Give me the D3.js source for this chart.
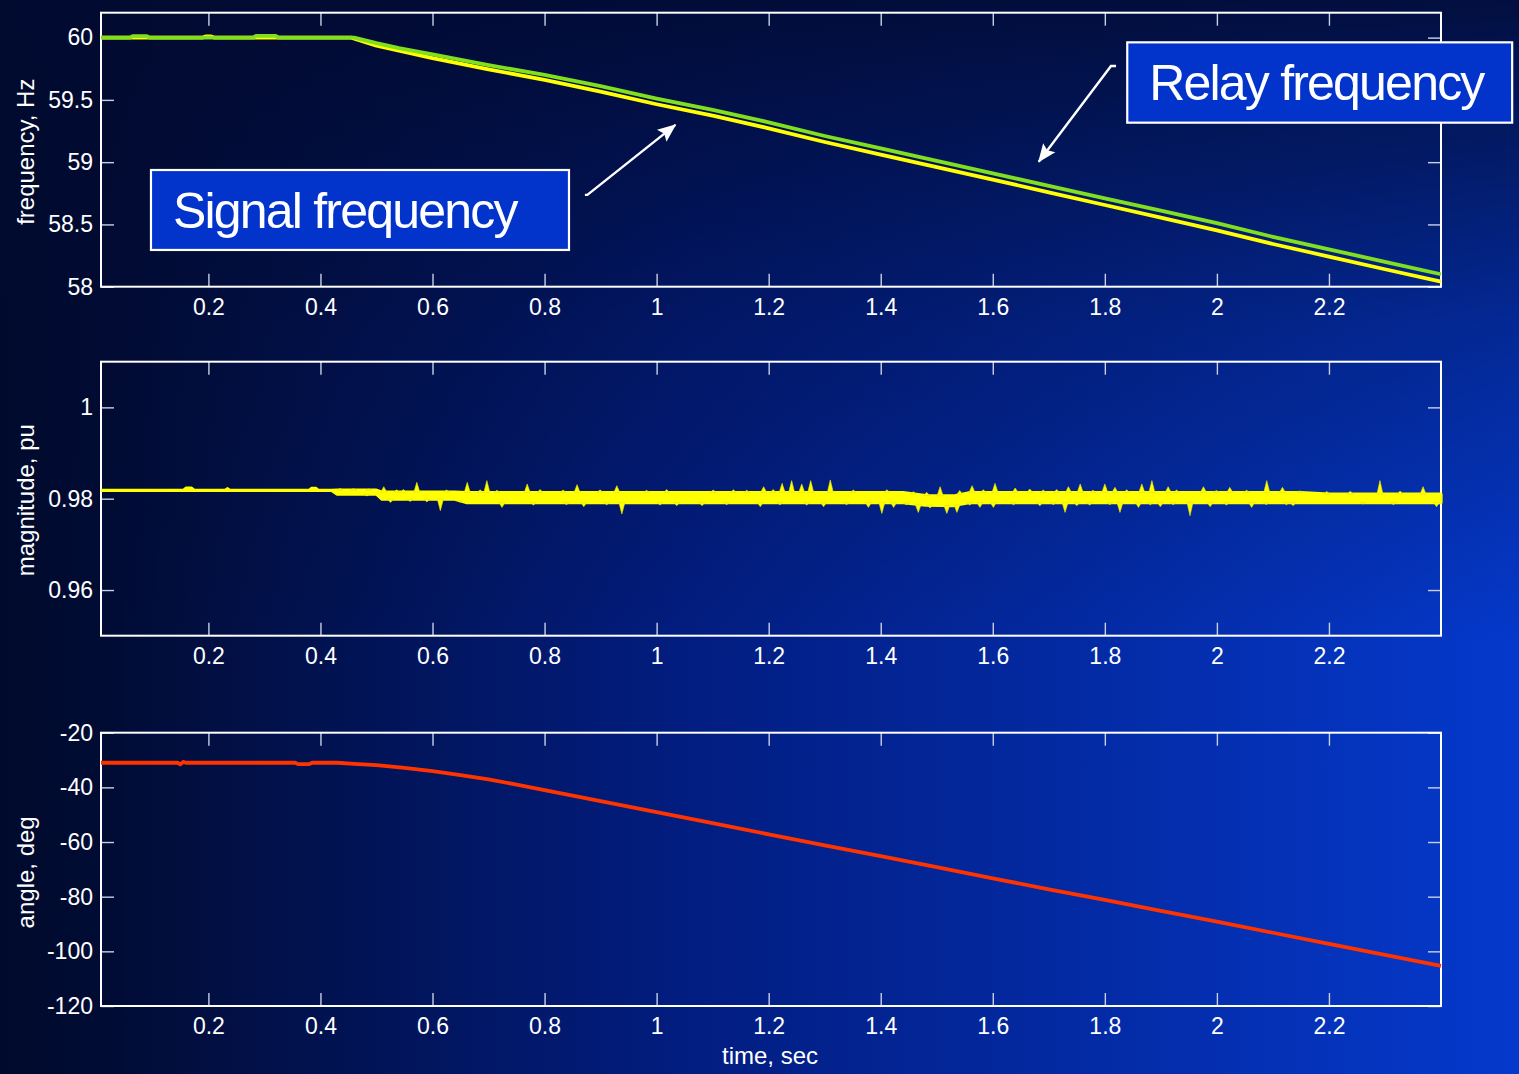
<!DOCTYPE html>
<html>
<head>
<meta charset="utf-8">
<script src="https://cdn.jsdelivr.net/npm/d3@7"></script>
<style>
  html, body { margin: 0; padding: 0; background: #010a30; }
  svg { display: block; }
</style>
</head>
<body>
<svg id="chart" width="1519" height="1074"></svg>
<script>
// ---- time axis ----
const timeDomain = [0.0083, 2.4];
const timeTicks = [0.2, 0.4, 0.6, 0.8, 1, 1.2, 1.4, 1.6, 1.8, 2, 2.2];

// ---- panel 1: frequency (Hz) ----
const freqDomain = [58, 60.2];
const freqTicks = [58, 58.5, 59, 59.5, 60];
const relayTime = [0.0083, 0.06, 0.065, 0.09, 0.095, 0.28, 0.285, 0.32, 0.325, 0.46, 0.5, 0.54, 0.6, 0.7, 0.8, 0.9, 1.0, 1.1, 1.2, 1.3, 1.4, 1.5, 1.6, 1.7, 1.8, 1.9, 2.0, 2.1, 2.2, 2.3, 2.4];
const relayHz   = [60, 60, 60.012, 60.012, 60, 60, 60.014, 60.014, 60, 60, 59.955, 59.915, 59.865, 59.78, 59.70, 59.61, 59.51, 59.42, 59.32, 59.21, 59.11, 59.01, 58.91, 58.81, 58.71, 58.61, 58.51, 58.40, 58.30, 58.20, 58.10];
const signalTime = [0.0083, 0.19, 0.195, 0.205, 0.21, 0.455, 0.5, 0.54, 0.6, 0.7, 0.8, 0.9, 1.0, 1.1, 1.2, 1.3, 1.4, 1.5, 1.6, 1.7, 1.8, 1.9, 2.0, 2.1, 2.2, 2.3, 2.4];
const signalHz   = [60, 60, 60.01, 60.01, 60, 60, 59.935, 59.895, 59.835, 59.745, 59.66, 59.567, 59.465, 59.373, 59.272, 59.162, 59.06, 58.96, 58.86, 58.758, 58.656, 58.555, 58.453, 58.343, 58.242, 58.14, 58.04];

// ---- panel 2: magnitude (pu) ----
const magDomain = [0.95, 1.01];
const magTicks = [0.96, 0.98, 1];
// upper / lower envelope of the fast oscillation
const magBandTime = [0.0083, 0.155, 0.16, 0.17, 0.175, 0.23, 0.234, 0.238, 0.38, 0.384, 0.392, 0.396, 0.42, 0.43, 0.50, 0.51, 0.64, 0.66, 1.44, 1.48, 1.53, 1.56, 2.15, 2.2, 2.4];
const magBandHi   = [0.98182, 0.98182, 0.98230, 0.98230, 0.98182, 0.98182, 0.98220, 0.98182, 0.98182, 0.98225, 0.98225, 0.98182, 0.98182, 0.98187, 0.98187, 0.98143, 0.98143, 0.98136, 0.98136, 0.98070, 0.98060, 0.98136, 0.98136, 0.98100, 0.98100];
const magBandLo   = [0.98182, 0.98182, 0.98182, 0.98182, 0.98182, 0.98182, 0.98182, 0.98182, 0.98182, 0.98182, 0.98182, 0.98182, 0.98182, 0.98099, 0.98099, 0.97989, 0.97989, 0.97916, 0.97916, 0.97860, 0.97850, 0.97916, 0.97916, 0.97916, 0.97916];
// isolated spikes of the magnitude estimate (large ones first, then the small ones)
const magSpikeTime = [0.486, 0.513, 0.572, 0.662, 0.697, 0.769, 0.858, 0.929, 1.191, 1.224, 1.241, 1.259, 1.275, 1.310, 1.506, 1.563, 1.604, 1.640, 1.666, 1.735, 1.756, 1.800, 1.818, 1.866, 1.884, 1.913, 1.976, 2.023, 2.089, 2.117, 2.291, 2.368,
                      0.525, 0.614, 0.724, 0.870, 0.938, 1.036, 1.081, 1.185, 1.298, 1.378, 1.402, 1.423, 1.467, 1.488, 1.518, 1.536, 1.577, 1.601, 1.684, 1.729, 1.750, 1.827, 1.860, 1.899, 1.952, 1.988, 2.062, 2.136, 2.261, 2.392,
                      0.435, 0.459, 0.536, 0.548, 0.625, 0.685, 0.715, 0.792, 0.833, 0.899, 0.982, 1.018, 1.101, 1.137, 1.161, 1.208, 1.351, 1.411, 1.458, 1.482, 1.541, 1.583, 1.690, 1.714, 1.779, 1.839, 1.928, 1.999, 2.053, 2.148, 2.196, 2.238, 2.327,
                      0.483, 0.560, 0.590, 0.649, 0.780, 0.839, 0.911, 1.006, 1.125, 1.220, 1.268, 1.339, 1.446, 1.559, 1.637, 1.708, 1.773, 1.809, 1.881, 1.922, 2.017, 2.088, 2.124, 2.315];
const magSpikeVal  = [0.98213, 0.98264, 0.98358, 0.98358, 0.98396, 0.98323, 0.98308, 0.98286, 0.98264, 0.98336, 0.98396, 0.98323, 0.98396, 0.98411, 0.98264, 0.98286, 0.98336, 0.98235, 0.98213, 0.98264, 0.98323, 0.98323, 0.98248, 0.98323, 0.98396, 0.98264, 0.98264, 0.98248, 0.98396, 0.98248, 0.98396, 0.98264,
                      0.97919, 0.97736, 0.97809, 0.97824, 0.97664, 0.97846, 0.97846, 0.97824, 0.97824, 0.97809, 0.97677, 0.97809, 0.97699, 0.97796, 0.97677, 0.97699, 0.97809, 0.97809, 0.97846, 0.97699, 0.97846, 0.97699, 0.97809, 0.97824, 0.97626, 0.97824, 0.97809, 0.97846, 0.97884, 0.97824,
                      0.98225, 0.98220, 0.98195, 0.98200, 0.98190, 0.98195, 0.98185, 0.98200, 0.98190, 0.98195, 0.98185, 0.98200, 0.98190, 0.98195, 0.98185, 0.98200, 0.98190, 0.98195, 0.98150, 0.98140, 0.98180, 0.98195, 0.98190, 0.98200, 0.98185, 0.98195, 0.98190, 0.98180, 0.98185, 0.98170, 0.98160, 0.98165, 0.98170,
                      0.98060, 0.97940, 0.97930, 0.97925, 0.97860, 0.97870, 0.97865, 0.97860, 0.97870, 0.97865, 0.97860, 0.97870, 0.97870, 0.97860, 0.97865, 0.97870, 0.97860, 0.97870, 0.97865, 0.97870, 0.97860, 0.97870, 0.97865, 0.97870];

// ---- panel 3: angle (deg) ----
const angleDomain = [-120, -20];
const angleTicks = [-120, -100, -80, -60, -40, -20];
const angleTime = [0.0083, 0.145, 0.15, 0.155, 0.16, 0.355, 0.36, 0.38, 0.385, 0.43, 0.46, 0.5, 0.55, 0.6, 0.65, 0.7, 0.75, 0.8, 0.9, 1.0, 1.1, 1.2, 1.3, 1.4, 1.5, 1.6, 1.7, 1.8, 1.9, 2.0, 2.1, 2.2, 2.3, 2.4];
const angleDeg  = [-31, -31, -31.6, -30.7, -31, -31, -31.5, -31.5, -31, -31, -31.4, -31.9, -32.9, -34.1, -35.5, -37.1, -39.0, -41.0, -45.0, -49.1, -53.1, -57.2, -61.2, -65.2, -69.2, -73.3, -77.3, -81.2, -85.2, -89.1, -93.2, -97.3, -101.3, -105.3];

// ---- annotations (data coordinates of the top panel) ----
const calloutLabels = ["Signal frequency", "Relay frequency"];
const calloutBoxes = [[0.0975, 58.937, 0.8436, 58.295], [1.840, 59.962, 2.527, 59.317]];
const calloutArrows = [
  [[0.872, 58.737], [0.8764, 58.737], [1.0335, 59.299]],
  [[1.820, 59.772], [1.811, 59.772], [1.682, 59.004]]
];

// ---------------------------------------------------------------
const W = 1519, H = 1074;
const plotLeft = 101, plotRight = 1441;
const FONT = '"Liberation Sans", Arial, Helvetica, sans-serif';
const svg = d3.select("#chart");
const defs = svg.append("defs");

// background: dark navy on the left/top, bright blue toward the lower right
const gh = defs.append("linearGradient").attr("id", "bgH").attr("x1", 0).attr("y1", 0).attr("x2", 1).attr("y2", 0);
[[0, "#000a2c"], [0.08, "#010c36"], [0.45, "#021d80"], [1, "#0539cc"]].forEach(([o, c]) => gh.append("stop").attr("offset", o).attr("stop-color", c));
const gv = defs.append("linearGradient").attr("id", "bgV").attr("x1", 0).attr("y1", 0).attr("x2", 0).attr("y2", 1);
[[0, "#010a30", 0.9], [0.3, "#010a30", 0.35], [0.6, "#010a30", 0.0], [1, "#010a30", 0]].forEach(([o, c, a]) => gv.append("stop").attr("offset", o).attr("stop-color", c).attr("stop-opacity", a));
svg.append("rect").attr("width", W).attr("height", H).attr("fill", "url(#bgH)");
svg.append("rect").attr("width", W).attr("height", H).attr("fill", "url(#bgV)");

const x = d3.scaleLinear().domain(timeDomain).range([plotLeft, plotRight]);
const fmt = d => String(+(+d).toFixed(3));

const panels = [
  { top: 12.7, bottom: 286.7, domain: freqDomain, ticks: freqTicks, title: "frequency, Hz", titleShift: 2 },
  { top: 361.7, bottom: 635.7, domain: magDomain, ticks: magTicks, title: "magnitude, pu", titleShift: 1.5 },
  { top: 732.7, bottom: 1006, domain: angleDomain, ticks: angleTicks, title: "angle, deg", titleShift: 3 }
];

panels.forEach((p, i) => {
  p.y = d3.scaleLinear().domain(p.domain).range([p.bottom, p.top]);
  defs.append("clipPath").attr("id", "clip" + i)
    .append("rect").attr("x", plotLeft).attr("y", p.top - 6)
    .attr("width", plotRight - plotLeft + 4).attr("height", p.bottom - p.top + 12);
});

function styleAxis(g) {
  g.select(".domain").remove();
  g.attr("font-family", FONT).attr("font-size", 23);
  g.selectAll(".tick line").attr("stroke", "#c9d0e6").attr("stroke-width", 1.4);
  g.selectAll(".tick text").attr("fill", "#ffffff");
}

panels.forEach((p, i) => {
  const g = svg.append("g");
  g.append("g").attr("transform", `translate(0,${p.bottom})`)
    .call(d3.axisBottom(x).tickValues(timeTicks).tickSizeInner(-13).tickSizeOuter(0).tickPadding(12).tickFormat(fmt)).call(styleAxis);
  g.append("g").attr("transform", `translate(0,${p.top})`)
    .call(d3.axisTop(x).tickValues(timeTicks).tickSizeInner(-13).tickSizeOuter(0).tickFormat("")).call(styleAxis);
  g.append("g").attr("transform", `translate(${plotLeft},0)`)
    .call(d3.axisLeft(p.y).tickValues(p.ticks).tickSizeInner(-13).tickSizeOuter(0).tickPadding(8).tickFormat(fmt)).call(styleAxis);
  g.append("g").attr("transform", `translate(${plotRight},0)`)
    .call(d3.axisRight(p.y).tickValues(p.ticks).tickSizeInner(-13).tickSizeOuter(0).tickFormat("")).call(styleAxis);
  g.append("rect").attr("x", plotLeft).attr("y", p.top)
    .attr("width", plotRight - plotLeft).attr("height", p.bottom - p.top)
    .attr("fill", "none").attr("stroke", "#ffffff").attr("stroke-width", 2);
  svg.append("text")
    .attr("transform", `translate(34,${(p.top + p.bottom) / 2 + p.titleShift}) rotate(-90)`)
    .attr("text-anchor", "middle").attr("font-family", FONT).attr("font-size", 24)
    .attr("fill", "#ffffff").text(p.title);
});

svg.append("text").attr("x", 770).attr("y", 1064).attr("text-anchor", "middle")
  .attr("font-family", FONT).attr("font-size", 24).attr("fill", "#ffffff").text("time, sec");

const zip = (a, b) => a.map((t, k) => [t, b[k]]);

// ---- frequency traces ----
const pF = panels[0];
const freqLine = d3.line().x(d => x(d[0])).y(d => pF.y(d[1]));
const gF = svg.append("g").attr("clip-path", "url(#clip0)");
gF.append("path").datum(zip(signalTime, signalHz)).attr("d", freqLine)
  .attr("fill", "none").attr("stroke", "#ffff00").attr("stroke-width", 3.8).attr("stroke-linejoin", "round");
gF.append("path").datum(zip(relayTime, relayHz)).attr("d", freqLine)
  .attr("fill", "none").attr("stroke", "#80e020").attr("stroke-width", 3.8).attr("stroke-linejoin", "round");

// ---- magnitude trace ----
const pM = panels[1];
const gM = svg.append("g").attr("clip-path", "url(#clip1)");
const bandData = magBandTime.map((t, k) => [t, magBandHi[k], magBandLo[k]]);
gM.append("path").datum(bandData)
  .attr("d", d3.area().x(d => x(d[0])).y0(d => pM.y(d[2])).y1(d => pM.y(d[1])))
  .attr("fill", "#ffff00").attr("stroke", "#ffff00").attr("stroke-width", 3.2).attr("stroke-linejoin", "round");
const hiAt = d3.scaleLinear().domain(magBandTime).range(magBandHi);
const loAt = d3.scaleLinear().domain(magBandTime).range(magBandLo);
gM.selectAll("path.spike").data(zip(magSpikeTime, magSpikeVal)).join("path")
  .attr("class", "spike")
  .attr("d", d => {
    const up = d[1] > (hiAt(d[0]) + loAt(d[0])) / 2;
    const base = pM.y(up ? hiAt(d[0]) : loAt(d[0]));
    const cx = x(d[0]);
    return `M${cx - 3},${base}L${cx},${pM.y(d[1])}L${cx + 3},${base}Z`;
  })
  .attr("fill", "#ffff00").attr("stroke", "#e8e800").attr("stroke-width", 0.6);

// ---- angle trace ----
const pA = panels[2];
svg.append("g").attr("clip-path", "url(#clip2)")
  .append("path").datum(zip(angleTime, angleDeg))
  .attr("d", d3.line().x(d => x(d[0])).y(d => pA.y(d[1])))
  .attr("fill", "none").attr("stroke", "#ff3300").attr("stroke-width", 3.8).attr("stroke-linejoin", "round");

// ---- callouts ----
defs.append("marker").attr("id", "arrowHead")
  .attr("markerUnits", "userSpaceOnUse").attr("markerWidth", 24).attr("markerHeight", 24)
  .attr("viewBox", "-20 -10 22 20").attr("refX", 0).attr("refY", 0).attr("orient", "auto")
  .append("path").attr("d", "M1,0L-16,-7L-13,0L-16,7Z").attr("fill", "#ffffff");

const gC = svg.append("g");
calloutArrows.forEach(pts => {
  gC.append("path").datum(pts)
    .attr("d", d3.line().x(d => x(d[0])).y(d => pF.y(d[1])))
    .attr("fill", "none").attr("stroke", "#ffffff").attr("stroke-width", 2.4)
    .attr("marker-end", "url(#arrowHead)");
});
calloutBoxes.forEach((b, k) => {
  const x0 = x(b[0]), y0 = pF.y(b[1]), x1 = x(b[2]), y1 = pF.y(b[3]);
  gC.append("rect").attr("x", x0).attr("y", y0).attr("width", x1 - x0).attr("height", y1 - y0)
    .attr("fill", "#0234cc").attr("stroke", "#ffffff").attr("stroke-width", 2.2);
  gC.append("text").attr("x", x0 + 22).attr("y", y0 + 57.5)
    .attr("font-family", FONT).attr("font-size", 50).attr("letter-spacing", -1.8)
    .attr("fill", "#ffffff").text(calloutLabels[k]);
});
</script>
</body>
</html>
